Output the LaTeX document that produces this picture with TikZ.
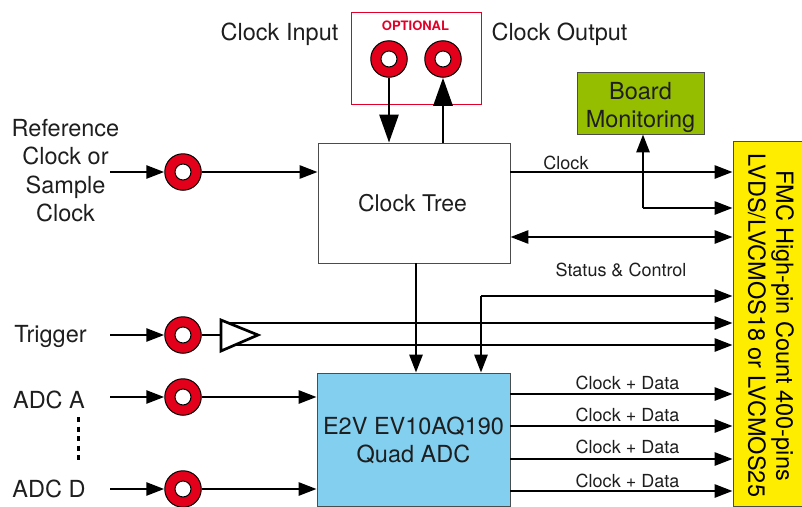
\documentclass[tikz,border=0pt]{standalone}
\usepackage{fontspec}
\setmainfont{TeX Gyre Heros}
\usetikzlibrary{arrows.meta,calc}
\definecolor{jackred}{RGB}{226,0,26}
\definecolor{optred}{RGB}{226,0,40}
\definecolor{adcblue}{RGB}{130,207,240}
\definecolor{monigreen}{RGB}{149,190,0}
\definecolor{fmcyellow}{RGB}{255,237,0}
\definecolor{txt}{RGB}{30,30,30}
\newcommand{\fs}[1]{\fontsize{#1}{#1}\selectfont}
\tikzset{
  x=1pt,y=-1pt,
  jack/.style={circle,draw=black,line width=1pt,fill=jackred,minimum size=36.5pt,inner sep=0pt,
    path picture={\fill[white,draw=black,line width=1pt] (path picture bounding box.center) circle (8pt);}},
  wire/.style={line width=2.7pt,draw=black,-{Triangle[length=18pt,width=13pt]},shorten >=0pt},
  plainwire/.style={line width=2.7pt,draw=black},
  bigwire/.style={line width=2.7pt,draw=black,-{Triangle[length=28pt,width=19pt]}},
  dwire/.style={line width=2.7pt,draw=black,{Triangle[length=18pt,width=13pt]}-{Triangle[length=18pt,width=13pt]}},
  block/.style={draw=black!70,line width=0.8pt,inner sep=0pt,align=center,text=txt},
  lab/.style={text=txt,inner sep=0pt,align=center,font=\fs{23.5}},
  small/.style={text=txt,inner sep=0pt,font=\fs{18}},
}
\begin{document}
\begin{tikzpicture}
\useasboundingbox (0,0) rectangle (802,506);
% boxes
\node[draw=optred,line width=0.8pt,minimum width=129.5pt,minimum height=91.5pt,inner sep=0pt] (opt) at (416.25,58.25) {};
\node[text=optred,inner sep=0pt,font=\bfseries\fs{13}] (opttxt) at (415.5,25.5) {OPTIONAL};
\node[block,minimum width=192pt,minimum height=120pt] (tree) at (414,203) {};
\node[lab,font=\fs{23}] (treetxt) at (412.5,203) {Clock Tree};
\node[block,fill=adcblue,minimum width=193pt,minimum height=133pt] (adc) at (413.5,439.5) {};
\node[lab,execute at begin node={\baselineskip=28pt}] (adctxt) at (413.5,440) {E2V EV10AQ190\\Quad ADC};
\node[block,fill=monigreen,minimum width=127pt,minimum height=62pt] (mon) at (640.5,103) {};
\node[lab,execute at begin node={\baselineskip=28pt}] (montxt) at (640.5,107) {Board\\Monitoring};
\node[block,fill=fmcyellow,minimum width=69pt,minimum height=365pt] (fmc) at (767.5,323.5) {};
\node[rotate=-90,text=black,inner sep=0pt,align=center,font=\fs{23.5},execute at begin node={\baselineskip=28pt}] (fmctxt) at (771,325.5) {FMC High-pin Count 400-pins\\LVDS/LVCMOS18 or LVCMOS25};
% jacks
\node[jack] (jin) at (389,59) {};
\node[jack] (jout) at (443,59) {};
\node[jack] (jref) at (183,172) {};
\node[jack] (jtrig) at (183,335) {};
\node[jack] (ja) at (183,397) {};
\node[jack] (jd) at (183,489) {};
% labels
\node[lab] (l1) at (279.5,34) {Clock Input};
\node[lab] (l2) at (559.5,34) {Clock Output};
\node[lab,execute at begin node={\baselineskip=28.3pt}] (lref) at (65.5,170.5) {Reference\\Clock or\\Sample\\Clock};
\node[lab] (ltrig) at (50.5,336) {Trigger};
\node[lab] (la) at (49,400) {ADC A};
\node[lab] (ld) at (49,488.5) {ADC D};
\node[small] (s1) at (566,162.5) {Clock};
\node[small] (s2) at (621,270) {Status \& Control};
\node[small] (s3) at (627.5,383) {Clock + Data};
\node[small] (s4) at (627.5,415) {Clock + Data};
\node[small] (s5) at (627.5,447) {Clock + Data};
\node[small] (s6) at (627.5,481) {Clock + Data};
% free ends
\coordinate (cr) at (110,172);
\coordinate (ct) at (110,335);
\coordinate (ca) at (110,397);
\coordinate (cd) at (110,489);
% optional
\draw[bigwire] (jin.south) -- (jin.south |- tree.north);
\draw[bigwire] (jout.south |- tree.north) -- (jout.south);
% inputs
\draw[wire] (cr) -- (jref.west);
\draw[wire] (ct) -- (jtrig.west);
\draw[wire] (ca) -- (ja.west);
\draw[wire] (cd) -- (jd.west);
\draw[wire] (jref.east) -- (tree.west |- jref.east);
\draw[wire] (ja.east) -- (adc.west |- ja.east);
\draw[wire] (jd.east) -- (adc.west |- jd.east);
% dashed
\coordinate (da) at (78.5,417);
\coordinate (db) at (78.5,464);
\draw[line width=2.7pt,dash pattern=on 5pt off 4.5pt] (da) -- (db);
% clock tree to fmc
\draw[wire] (tree.east |- 0,172) -- (fmc.west |- 0,172);
\coordinate (mc) at (643,208);
\draw[wire] (mc) -- (mc -| fmc.west);
\draw[wire] (mc) -- (mc |- mon.south);
\draw[dwire] (tree.east |- 0,237) -- (fmc.west |- 0,237);
\draw[wire] (tree.south -| 416,0) -- (adc.north -| 416,0);
\coordinate (st) at (481,296);
\draw[wire] (st) -- (st -| fmc.west);
\draw[wire] (st) -- (st |- adc.north);
% buffer
\coordinate (bufa) at (230,323);
\coordinate (bufb) at (230,345);
\draw[wire] (bufa) -- (bufa -| fmc.west);
\draw[wire] (bufb) -- (bufb -| fmc.west);
\coordinate (tl) at (221,320);
\coordinate (bl) at (221,351);
\coordinate (tip) at (258,335);
\draw[plainwire] (jtrig.east) -- (tl |- jtrig.east);
\draw[line width=2.7pt,fill=white,line join=miter] (tl) -- (tip) -- (bl) -- cycle;
% adc to fmc
\draw[wire] (adc.east |- 0,394) -- (fmc.west |- 0,394);
\draw[wire] (adc.east |- 0,426) -- (fmc.west |- 0,426);
\draw[wire] (adc.east |- 0,459) -- (fmc.west |- 0,459);
\draw[wire] (adc.east |- 0,491) -- (fmc.west |- 0,491);
\end{tikzpicture}
\end{document}
